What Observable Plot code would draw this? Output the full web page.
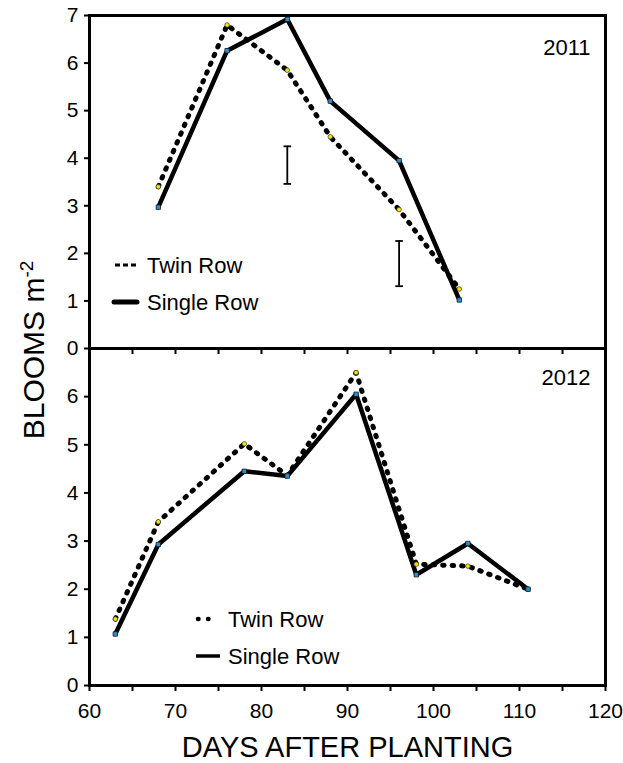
<!DOCTYPE html>
<html>
<head>
<meta charset="utf-8">
<script src="https://cdn.jsdelivr.net/npm/d3@7"></script>
<script src="https://cdn.jsdelivr.net/npm/@observablehq/plot@0.6"></script>
<style>
  body { margin: 0; background: white; font-family: "Liberation Sans", Arial, sans-serif; }
  #wrap { position: relative; width: 623px; height: 763px; overflow: hidden; background: white; }
  .abs { position: absolute; }
</style>
</head>
<body>
<div id="wrap">
  <div id="bottom" class="abs" style="left:0; top:348px; z-index:1;"></div>
  <div id="top" class="abs" style="left:0; top:0; z-index:2;"></div>
</div>
<script>
// ---- data ----
const days2011 = [68, 76, 83, 88, 96, 103];
const twin2011 = [3.4, 6.8, 5.85, 4.45, 2.92, 1.25];
const single2011 = [2.97, 6.26, 6.92, 5.2, 3.95, 1.02];

const days2012 = [63, 68, 78, 83, 91, 98, 104, 111];
const twin2012 = [1.38, 3.4, 5.02, 4.36, 6.5, 2.52, 2.48, 2.0];
const single2012 = [1.07, 2.93, 4.45, 4.35, 6.05, 2.3, 2.95, 2.0];

const errDays2011 = [83, 96];
const errLow2011 = [3.46, 1.31];
const errHigh2011 = [4.25, 2.26];

const yTicksTop = [0, 1, 2, 3, 4, 5, 6, 7];
const yTicksBottom = [0, 1, 2, 3, 4, 5, 6];
const xTicks = [60, 65, 70, 75, 80, 85, 90, 95, 100, 105, 110, 115, 120];
const seriesNames = ["Twin Row", "Single Row"];
const yearLabels = ["2011", "2012"];
const xTitle = "DAYS AFTER PLANTING";

// ---- helpers ----
const rows = (days, vals) => days.map((d, i) => ({day: d, v: vals[i]}));
const capSymbol = {draw(ctx, size) { const w = Math.sqrt(size / Math.PI); ctx.moveTo(-w, 0); ctx.lineTo(w, 0); }};
const FONT = '"Liberation Sans", Arial, sans-serif';
const W = 623, ML = 89, MR = 18;

function seriesMarks(days, twin, single) {
  const t = rows(days, twin), s = rows(days, single);
  return [
    Plot.line(s, {x: "day", y: "v", stroke: "black", strokeWidth: 4.5, strokeLinejoin: "miter"}),
    Plot.line(t, {x: "day", y: "v", stroke: "black", strokeWidth: 5, strokeDasharray: "1.5,8", strokeLinecap: "round"}),
    Plot.dot(t, {x: "day", y: "v", r: 2.3, fill: "#f2e600", stroke: "#333", strokeWidth: 0.7}),
    Plot.dot(s, {x: "day", y: "v", symbol: "square", r: 2.5, fill: "#2a8fd0", stroke: "#111", strokeWidth: 0.7})
  ];
}

// ---- top panel (2011) ----
const errRows = errDays2011.map((d, i) => ({day: d, lo: errLow2011[i], hi: errHigh2011[i]}));
const capRows = errRows.flatMap(r => [{day: r.day, v: r.lo}, {day: r.day, v: r.hi}]);

const topPlot = Plot.plot({
  width: W, height: 358,
  marginLeft: ML, marginRight: MR, marginTop: 15, marginBottom: 10,
  style: {fontFamily: FONT, fontSize: "21px", background: "transparent", overflow: "visible", color: "black"},
  x: {domain: [60, 120], label: null},
  y: {domain: [0, 7], label: null},
  marks: [
    Plot.ruleX(errRows, {x: "day", y1: "lo", y2: "hi", stroke: "black", strokeWidth: 1.8}),
    Plot.dot(capRows, {x: "day", y: "v", symbol: capSymbol, r: 3.8, stroke: "black", strokeWidth: 1.8}),
    ...seriesMarks(days2011, twin2011, single2011),
    Plot.frame({stroke: "black", strokeWidth: 3}),
    Plot.axisY({ticks: yTicksTop, tickSize: 5, tickPadding: 6, strokeWidth: 2, fontSize: 21, tickFormat: d => String(d)}),
    Plot.axisX({ticks: xTicks, tickSize: 6, strokeWidth: 2, tickFormat: () => ""}),
    Plot.text([yearLabels[0]], {frameAnchor: "top-right", dx: -15, dy: 32, lineAnchor: "middle", textAnchor: "end", fontSize: 22})
  ]
});
document.getElementById("top").appendChild(topPlot);

// ---- bottom panel (2012) ----
const bottomPlot = Plot.plot({
  width: W, height: 415,
  marginLeft: ML, marginRight: MR, marginTop: 0, marginBottom: 78,
  style: {fontFamily: FONT, fontSize: "21px", background: "transparent", overflow: "visible", color: "black"},
  x: {domain: [60, 120], label: null},
  y: {domain: [0, 7], label: null},
  marks: [
    ...seriesMarks(days2012, twin2012, single2012),
    Plot.frame({stroke: "black", strokeWidth: 3}),
    Plot.axisY({ticks: yTicksBottom, tickSize: 5, tickPadding: 6, strokeWidth: 2, fontSize: 21, tickFormat: d => String(d)}),
    Plot.axisX({ticks: xTicks, tickSize: 6, tickPadding: 12, strokeWidth: 2, fontSize: 21, tickFormat: d => d % 10 === 0 ? String(d) : ""}),
    Plot.text([yearLabels[1]], {frameAnchor: "top-right", dx: -15, dy: 29, lineAnchor: "middle", textAnchor: "end", fontSize: 22}),
    Plot.text([xTitle], {frameAnchor: "bottom", dy: 62, lineAnchor: "middle", fontSize: 29})
  ]
});
document.getElementById("bottom").appendChild(bottomPlot);

// ---- y title ----
const wrap = document.getElementById("wrap");
const yt = document.createElement("div");
yt.className = "abs";
yt.style.cssText = "left:33px; top:350px; transform: translate(-50%,-50%) rotate(-90deg); font-size:30px; white-space:nowrap; line-height:1; z-index:3;";
yt.innerHTML = 'BLOOMS m<sup style="font-size:19px; vertical-align: 0.55em;">-2</sup>';
wrap.appendChild(yt);

// ---- legends ----
function legendItem(x0, x1, cy, textX, label, strokeW, dash, cap) {
  const s = document.createElementNS("http://www.w3.org/2000/svg", "svg");
  s.setAttribute("width", 623); s.setAttribute("height", 763);
  s.style.cssText = "position:absolute; left:0; top:0; z-index:4; overflow:visible; pointer-events:none;";
  const l = document.createElementNS("http://www.w3.org/2000/svg", "line");
  l.setAttribute("x1", x0); l.setAttribute("x2", x1); l.setAttribute("y1", cy); l.setAttribute("y2", cy);
  l.setAttribute("stroke", "black"); l.setAttribute("stroke-width", strokeW);
  if (dash) l.setAttribute("stroke-dasharray", dash);
  if (cap) l.setAttribute("stroke-linecap", cap);
  s.appendChild(l);
  const t = document.createElementNS("http://www.w3.org/2000/svg", "text");
  t.setAttribute("x", textX); t.setAttribute("y", cy); t.setAttribute("dy", "0.35em");
  t.setAttribute("font-size", 22); t.setAttribute("font-family", FONT);
  t.textContent = label;
  s.appendChild(t);
  wrap.appendChild(s);
}
legendItem(115, 139, 265, 147, seriesNames[0], 3, "5,3", "butt");
legendItem(114, 137, 302, 147, seriesNames[1], 5, null, "round");
legendItem(198, 218, 619, 228, seriesNames[0], 4.5, "0.5,9.5", "round");
legendItem(196, 220, 656, 228, seriesNames[1], 3.5, null, "butt");
</script>
</body>
</html>
